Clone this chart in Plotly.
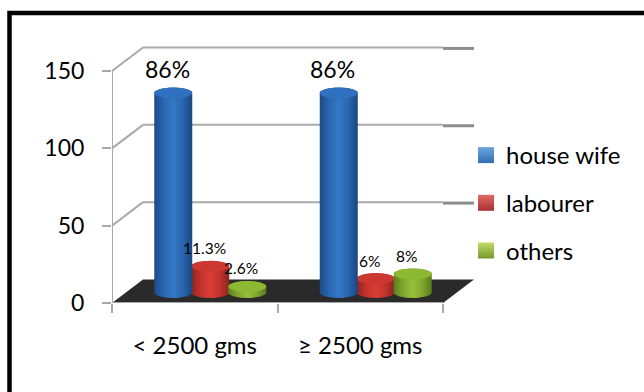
import numpy as np
import plotly.graph_objects as go

categories = ["&lt; 2500 gms", "≥ 2500 gms"]
series_names = ["house wife", "labourer", "others"]
house_wife_pct = [86, 86]
labourer_pct = [11.3, 6]
others_pct = [2.6, 8]
group_total = 150
y_ticks = [0, 50, 100, 150]

# Plot box in pixels; the front wall spans x 0..2 and y 0..150 inside it.
FIG_W, FIG_H = 644, 392
LEFT, RIGHT, TOP, BOTTOM = 112, 474, 46, 303
PX_X = 331 / 2
PX_Y = 232 / 150
DEPTH_X = 31 / PX_X
DEPTH_Y = 23.5 / PX_Y
X_MAX = (RIGHT - LEFT) / PX_X
Y_MAX = (BOTTOM - TOP) / PX_Y

RADIUS = 19 / PX_X
CAP = 5.5 / PX_Y
STEP = 37 / PX_X
BASE = 10.5 / PX_Y

GRID = "#a9a9a9"
styles = {
    "house wife": dict(stops=["#1d4a85", "#2a66b0", "#3478c4", "#2a66ae", "#1b4680"], cap="#2f70bf", key="#2f6fb5", key2="#6fa4dc"),
    "labourer": dict(stops=["#8e2420", "#c4332c", "#d83d35", "#c4332c", "#8a2320"], cap="#cb3830", key="#a83230", key2="#e06a64"),
    "others": dict(stops=["#5c7f1e", "#7fa72c", "#96c03a", "#7fa72c", "#587a1c"], cap="#8db832", key="#76982e", key2="#c0dc68"),
}


def ellipse(cx, cy, start, stop):
    t = np.radians(np.linspace(start, stop, 61))
    return cx + RADIUS * np.cos(t), cy + CAP * np.sin(t)


def paper_x(px):
    return (px - LEFT) / (RIGHT - LEFT)


def paper_y(px):
    return (BOTTOM - px) / (BOTTOM - TOP)


fig = go.Figure()

# Floor, back wall lines and left wall diagonals of the 3D box.
shapes = [dict(type="path", layer="below", line_width=0, fillcolor="#2a2a2a",
               path=f"M0,0 L{DEPTH_X},{DEPTH_Y} L{2 + DEPTH_X},{DEPTH_Y} L2,0 Z")]
for tick in y_ticks[1:]:
    shapes.append(dict(type="line", layer="below", x0=0, y0=tick, x1=DEPTH_X, y1=tick + DEPTH_Y,
                       line=dict(color=GRID, width=2)))
    shapes.append(dict(type="line", layer="below", x0=DEPTH_X, y0=tick + DEPTH_Y, x1=2, y1=tick + DEPTH_Y,
                       line=dict(color=GRID, width=2)))
    shapes.append(dict(type="line", layer="below", x0=2, y0=tick + DEPTH_Y - 0.6, x1=2 + DEPTH_X, y1=tick + DEPTH_Y - 0.6,
                       line=dict(color="#8c8c8c", width=3)))
shapes.append(dict(type="line", layer="below", x0=0, y0=0, x1=0, y1=150, line=dict(color=GRID, width=2)))
shapes.append(dict(type="line", x0=0, y0=0, x1=2, y1=0, line=dict(color=GRID, width=2)))
# Frame along the top and left edges; it runs off the page on the other two sides.
fx, fy = paper_x(9.5), paper_y(13)
shapes.append(dict(type="path", xref="paper", yref="paper",
                   path=f"M{fx},{paper_y(FIG_H + 5)} L{fx},{fy} L{paper_x(FIG_W + 5)},{fy}",
                   line=dict(color="#000000", width=4.5)))

annotations = []
series = [("labourer", labourer_pct, 0), ("others", others_pct, 1), ("house wife", house_wife_pct, -1)]
for name, pcts, slot in series:
    style = styles[name]
    for group, pct in enumerate(pcts):
        value = pct * group_total / 100
        cx = group + 0.5 + DEPTH_X / 2 + slot * STEP
        top = BASE + value
        lower_x, lower_y = ellipse(cx, BASE, 180, 360)
        upper_x, upper_y = ellipse(cx, top, 0, 180)
        stops = list(zip(np.linspace(0, 1, len(style["stops"])), style["stops"]))
        fig.add_trace(go.Scatter(
            x=np.r_[lower_x, upper_x], y=np.r_[lower_y, upper_y],
            mode="lines", line=dict(width=0), fill="toself",
            fillgradient=dict(type="horizontal", colorscale=stops),
            hoverinfo="skip", showlegend=False))
        cap_x, cap_y = ellipse(cx, top, 0, 360)
        fig.add_trace(go.Scatter(
            x=cap_x, y=cap_y, mode="lines", line=dict(width=0), fill="toself",
            fillcolor=style["cap"], hoverinfo="skip", showlegend=False))
        big = name == "house wife"
        annotations.append(dict(
            x=cx, y=top, text=f"{pct}%", showarrow=False, xshift=-6, yshift=24 if big else 18,
            font=dict(family="Lato", size=23 if big else 15.5, color="#000000")))

# Legend entries use square keys with a light top edge.
for name in series_names:
    fig.add_trace(go.Scatter(
        x=[None], y=[None], mode="markers", name=name, legendgroup=name,
        marker=dict(symbol="square", size=16, color=styles[name]["key2"],
                    gradient=dict(type="vertical", color=styles[name]["key"]))))

fig.update_layout(
    width=FIG_W, height=FIG_H, autosize=False,
    margin=dict(l=LEFT, r=FIG_W - RIGHT, t=TOP, b=FIG_H - BOTTOM, pad=0),
    paper_bgcolor="#ffffff", plot_bgcolor="rgba(0,0,0,0)",
    font=dict(family="Lato", color="#000000", size=20),
    shapes=shapes, annotations=annotations,
    legend=dict(x=0.978, xanchor="left", xref="paper", y=paper_y(203), yanchor="middle", yref="paper",
                tracegroupgap=13.5, font=dict(size=24, family="Lato"), itemsizing="trace",
                bgcolor="rgba(0,0,0,0)", traceorder="grouped"),
    xaxis=dict(range=[0, X_MAX], tickmode="array", tickvals=[0.5, 1.5], ticktext=categories,
               ticklen=0, showgrid=False, zeroline=False, showline=False, ticklabelstandoff=26,
               tickfont=dict(size=24, family="Lato"),
               minor=dict(tickmode="array", tickvals=[0, 1, 2], ticks="outside", ticklen=9,
                          tickcolor=GRID, tickwidth=2, showgrid=False)),
    yaxis=dict(range=[0, Y_MAX], tickmode="array", tickvals=y_ticks, ticks="outside", ticklen=9,
               tickcolor=GRID, tickwidth=2, showgrid=False, zeroline=False, showline=False,
               ticklabelstandoff=13, tickfont=dict(size=23, family="Lato")),
)

fig.write_html("out.html")
